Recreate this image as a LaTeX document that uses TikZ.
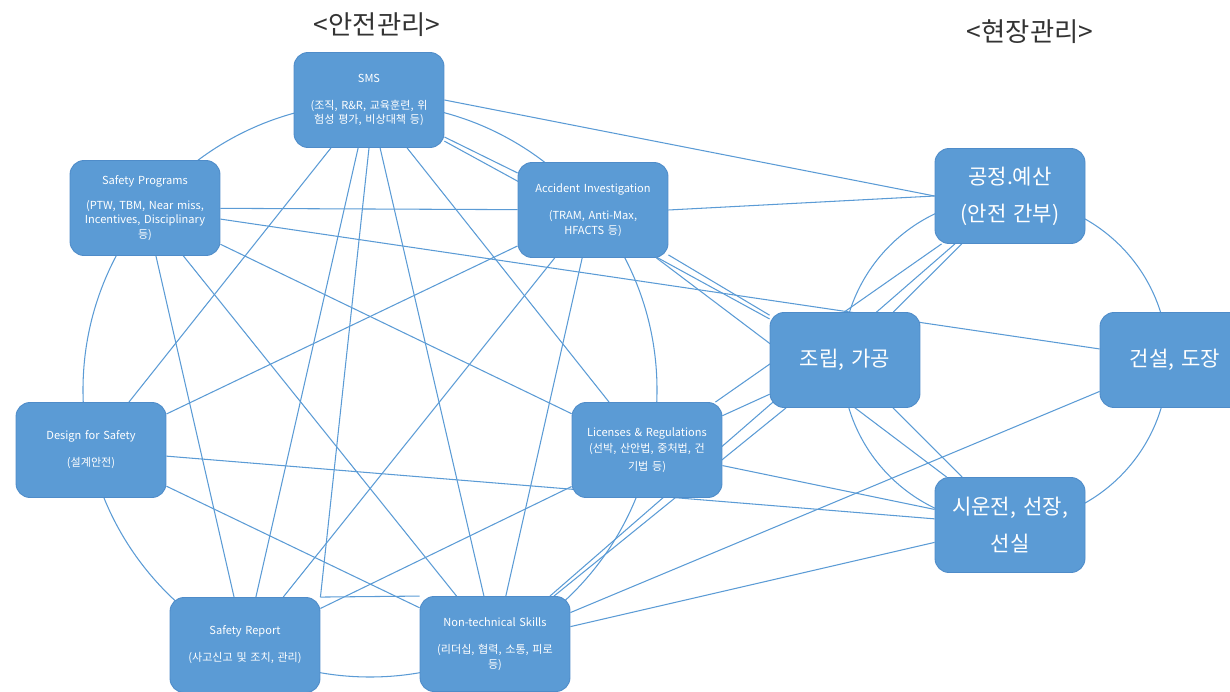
\documentclass[tikz,border=0pt]{standalone}
\usepackage{fontspec}
\setmainfont{Noto Sans CJK KR}
\usetikzlibrary{backgrounds}
\definecolor{nb}{HTML}{5B9BD5}
\definecolor{nbd}{HTML}{4F8CC9}
\definecolor{hd}{HTML}{333333}
\begin{document}
\begin{tikzpicture}[x=0.02cm,y=-0.02cm,
  sbox/.style={draw=nbd, line width=0.5pt, fill=nb, rounded corners=0.28cm,
    minimum width=3cm, minimum height=1.9cm, text=white, align=center,
    text width=2.85cm, inner sep=0pt, font=\fontsize{6.3}{8.3}\selectfont},
  fbox/.style={sbox, text width=2.8cm, font=\fontsize{12}{21}\selectfont},
  link/.style={draw=nb, line width=0.6pt},
  hdr/.style={text=hd, font=\fontsize{15}{17}\selectfont}]
\useasboundingbox (0,0) rectangle (1230,692);

% headers
\node[hdr] (h1) at (377,25) {<안전관리>};
\node[hdr] (h2) at (1030,32) {<현장관리>};

% left group
\node[sbox] (sms) at (369,100) {SMS\\[7pt](조직, R\&R, 교육훈련, 위\\험성 평가, 비상대책 등)};
\node[sbox] (prog) at (145,208) {Safety Programs\\[6pt](PTW, TBM, Near miss,\\Incentives, Disciplinary\\등)};
\node[sbox] (acc) at (593,210) {Accident Investigation\\[7pt](TRAM, Anti-Max,\\HFACTS 등)};
\node[sbox] (des) at (91,450) {Design for Safety\\[7pt](설계안전)};
\node[sbox] (lic) at (647,450) {Licenses \& Regulations\\[1pt](선박, 산안법, 중처법, 건\\[2pt]기법 등)};
\node[sbox] (rep) at (245,645) {Safety Report\\[7pt](사고신고 및 조치, 관리)};
\node[sbox] (non) at (495,644) {Non-technical Skills\\[7pt](리더십, 협력, 소통, 피로\\등)};

% right group
\node[fbox] (gong) at (1010,196) {공정.예산\\(안전 간부)};
\node[fbox] (jo) at (845,360) {조립, 가공};
\node[fbox] (gun) at (1175,360) {건설, 도장};
\node[fbox] (si) at (1010,525) {시운전, 선장,\\선실};

\begin{scope}[on background layer]
  % circles
  \draw[link] (370,390) circle[radius=287];
  \draw[link] (1005,361) circle[radius=163];
  % left internal
  \draw[link] (sms) -- (acc);
  \draw[link] (sms) -- (des);
  \draw[link] (sms) -- (rep);
  \draw[link] (sms.south) -- (rep.north east);
  \draw[link] (sms) -- (non);
  \draw[link] (sms) -- (lic);
  \draw[link] (prog) -- (acc);
  \draw[link] (prog) -- (lic);
  \draw[link] (prog) -- (non);
  \draw[link] (prog) -- (rep);
  \draw[link] (acc) -- (des);
  \draw[link] (acc) -- (rep);
  \draw[link] (acc) -- (non);
  \draw[link] (des) -- (non);
  \draw[link] (rep) -- (lic);
  \draw[link] (rep.north east) -- (non.north west);
  % cross links
  \draw[link] (sms.east) -- (gong.west);
  \draw[link] (sms) -- (jo);
  \draw[link] (prog) -- (gun);
  \draw[link] (acc.east) -- (gong.west);
  \draw[link] (acc) -- (jo);
  \draw[link] (acc) -- (si);
  \draw[link] (des) -- (si);
  \draw[link] (lic) -- (jo);
  \draw[link] (lic) -- (gong);
  \draw[link] (lic) -- (si);
  \draw[link] (non) -- (jo);
  \draw[link] (non) -- (gun);
  \draw[link] (non) -- (si);
  \draw[link] (non) -- (gong);
  % right internal
  \draw[link] (jo) -- (gong);
  \draw[link] (jo) -- (si);
\end{scope}
\end{tikzpicture}
\end{document}
